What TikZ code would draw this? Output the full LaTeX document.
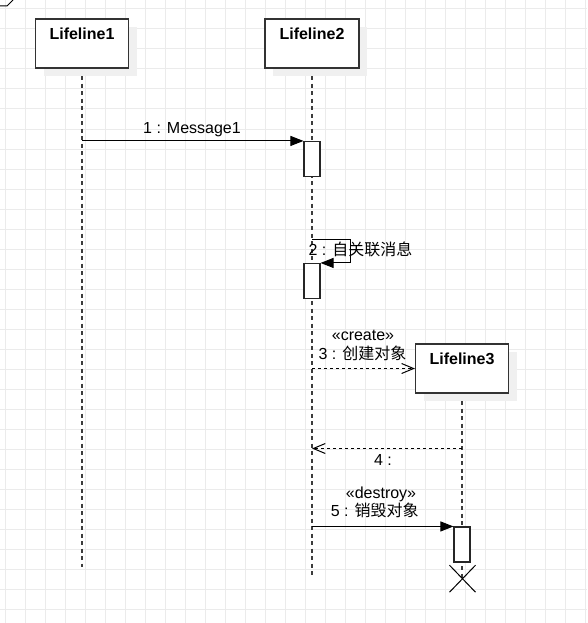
\documentclass[tikz,border=0pt]{standalone}
\usepackage{fontspec}
\setmainfont{Liberation Sans}
\newfontfamily\cjk{Noto Sans CJK SC}
\usetikzlibrary{arrows.meta,shapes.misc,shadows,calc}
\definecolor{gridc}{RGB}{235,235,235}
\definecolor{boxc}{RGB}{51,51,51}
\definecolor{lifec}{RGB}{60,60,60}
\pgfdeclarelayer{gridlayer}
\pgfdeclarelayer{lifelayer}
\pgfsetlayers{gridlayer,lifelayer,main}
\tikzset{
  gridline/.style={draw=gridc, line width=1pt},
  lifebox/.style={draw=boxc, line width=1.2pt, fill=white, minimum width=93pt, minimum height=49pt, inner sep=0pt,
    general shadow={fill=black!6, shadow xshift=8pt, shadow yshift=-8pt}},
  boxlabel/.style={font=\bfseries\fontsize{16pt}{19pt}\selectfont, inner sep=0pt, anchor=base, yshift=-21pt},
  lifeline/.style={draw=lifec, line width=1.3pt, dash pattern=on 4pt off 3.5pt},
  actbox/.style={draw=black!85, line width=1.1pt, fill=white, minimum width=16pt, minimum height=35pt, inner sep=0pt},
  msgfill/.style={draw=black, line width=1pt, -{Triangle[length=13pt,width=10pt]}},
  msgopen/.style={draw=black, line width=1pt, dash pattern=on 3pt off 3pt, -{Straight Barb[length=12pt,width=10pt,line width=1pt]}},
  msglabel/.style={font=\fontsize{16pt}{19pt}\selectfont, inner sep=0pt, anchor=base},
  destroyx/.style={cross out, draw=black, line width=1pt, minimum width=25pt, minimum height=26pt, inner sep=0pt}
}
\begin{document}
\begin{tikzpicture}[x=1pt,y=-1pt]
\useasboundingbox (0,0) rectangle (587,623);
\begin{pgfonlayer}{gridlayer}
  \fill[white] (0,0) rectangle (587,623);
  \foreach \x in {5,25,...,585} \draw[gridline] (\x,0) -- (\x,623);
  \foreach \y in {9,29,...,609} \draw[gridline] (0,\y) -- (587,\y);
\end{pgfonlayer}

% corner fragment
\draw[line width=1pt] (0,6) -- (7,6) -- (13,0);

% lifeline heads
\node[lifebox, label={[boxlabel]north:Lifeline1}] (L1) at (82,43.5) {};
\node[lifebox, minimum width=94pt, label={[boxlabel]north:Lifeline2}] (L2) at (312,43.5) {};
\node[lifebox, label={[boxlabel]north:Lifeline3}] (L3) at (462,368.5) {};

% activations
\node[actbox] (A1) at (312,159) {};
\node[actbox] (A2) at (312,281) {};
\node[actbox] (A3) at (462,544.5) {};

% lifeline ends
\coordinate (L1e) at (82,567);
\coordinate (L2e) at (312,575);
\coordinate (L3e) at (462,578);

\begin{pgfonlayer}{lifelayer}
  \draw[lifeline] (L1.south) -- (L1e);
  \draw[lifeline] (L2.south) -- (L2e);
  \draw[lifeline] (L3.south) -- (L3e);
\end{pgfonlayer}

% destroy mark
\node[destroyx] (X) at (462.5,578.7) {};

% 1 : Message1
\draw[msgfill] (L1.south |- A1.north west) -- (A1.north west);
\node[msglabel] (m1) at (192,133) {1 : Message1};

% 2 : self message
\coordinate (s2) at (312,239);
\draw[msgfill] (s2) -- ++(38,0) |- (A2.north east);
\node[msglabel] (m2) at (360.5,255) {2 : {\cjk 自关联消息}};

% 3 : create
\draw[msgopen] (L2.south |- L3.west) -- (L3.west);
\node[msglabel] (m3a) at (363,340) {«create»};
\node[msglabel] (m3b) at (362.5,359) {3 : {\cjk 创建对象}};

% 4 : return
\coordinate (r4) at (462,448.5);
\draw[msgopen] (r4) -- (L2.south |- r4);
\node[msglabel] (m4) at (383,465.5) {4 :};

% 5 : destroy
\draw[msgfill] (L2.south |- A3.north west) -- (A3.north west);
\node[msglabel] (m5a) at (381,498) {«destroy»};
\node[msglabel] (m5b) at (374.7,516.5) {5 : {\cjk 销毁对象}};
\end{tikzpicture}
\end{document}
